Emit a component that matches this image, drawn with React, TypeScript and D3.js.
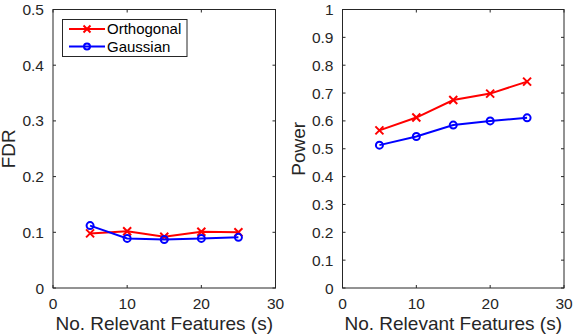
import React, { useRef, useEffect } from "react";
import * as d3 from "d3";

const relevantFeatures = [5, 10, 15, 20, 25];
const fdrOrthogonal = [0.098, 0.102, 0.092, 0.101, 0.1];
const fdrGaussian = [0.112, 0.089, 0.087, 0.089, 0.091];
const powerOrthogonal = [0.566, 0.612, 0.675, 0.698, 0.741];
const powerGaussian = [0.513, 0.544, 0.585, 0.6, 0.611];

const xTicks = [0, 10, 20, 30];
const fdrTicks = [0, 0.1, 0.2, 0.3, 0.4, 0.5];
const powerTicks = [0, 0.1, 0.2, 0.3, 0.4, 0.5, 0.6, 0.7, 0.8, 0.9, 1];
const seriesNames = ["Orthogonal", "Gaussian"];

const RED = "#ff0000";
const BLUE = "#0000ff";
const AXIS = "#262626";
const FONT = "'Liberation Sans', Arial, Helvetica, sans-serif";

type Panel = {
  left: number;
  right: number;
  yMax: number;
  yTicks: number[];
  yLabel: string;
  red: number[];
  blue: number[];
  legend: boolean;
};

const App = () => {
  const ref = useRef<SVGSVGElement>(null);

  useEffect(() => {
    const svg = d3.select(ref.current);
    svg.selectAll("*").remove();

    const top = 9.5;
    const bottom = 288;

    const panels: Panel[] = [
      {
        left: 53,
        right: 275.5,
        yMax: 0.5,
        yTicks: fdrTicks,
        yLabel: "FDR",
        red: fdrOrthogonal,
        blue: fdrGaussian,
        legend: true,
      },
      {
        left: 342.5,
        right: 564,
        yMax: 1,
        yTicks: powerTicks,
        yLabel: "Power",
        red: powerOrthogonal,
        blue: powerGaussian,
        legend: false,
      },
    ];

    panels.forEach((p) => {
      const x = d3.scaleLinear().domain([0, 30]).range([p.left, p.right]);
      const y = d3.scaleLinear().domain([0, p.yMax]).range([bottom, top]);
      const g = svg.append("g");
      const tl = 3;

      // box
      g.append("rect")
        .attr("x", p.left)
        .attr("y", top)
        .attr("width", p.right - p.left)
        .attr("height", bottom - top)
        .attr("fill", "white")
        .attr("stroke", AXIS)
        .attr("stroke-width", 1);

      // x ticks (bottom and top, inward)
      xTicks.forEach((t) => {
        g.append("line")
          .attr("x1", x(t)).attr("x2", x(t))
          .attr("y1", bottom).attr("y2", bottom - tl)
          .attr("stroke", AXIS);
        g.append("line")
          .attr("x1", x(t)).attr("x2", x(t))
          .attr("y1", top).attr("y2", top + tl)
          .attr("stroke", AXIS);
        g.append("text")
          .attr("x", x(t))
          .attr("y", 308.5)
          .attr("text-anchor", "middle")
          .attr("font-family", FONT)
          .attr("font-size", 15.5)
          .attr("fill", AXIS)
          .text(d3.format("d")(t));
      });

      // y ticks
      p.yTicks.forEach((t) => {
        g.append("line")
          .attr("x1", p.left).attr("x2", p.left + tl)
          .attr("y1", y(t)).attr("y2", y(t))
          .attr("stroke", AXIS);
        g.append("line")
          .attr("x1", p.right).attr("x2", p.right - tl)
          .attr("y1", y(t)).attr("y2", y(t))
          .attr("stroke", AXIS);
        g.append("text")
          .attr("x", p.left - 9)
          .attr("y", y(t))
          .attr("dy", "0.36em")
          .attr("text-anchor", "end")
          .attr("font-family", FONT)
          .attr("font-size", 15.5)
          .attr("fill", AXIS)
          .text(String(+t.toFixed(1)));
      });

      // axis labels
      g.append("text")
        .attr("x", (p.left + p.right) / 2)
        .attr("y", 329.5)
        .attr("text-anchor", "middle")
        .attr("font-family", FONT)
        .attr("font-size", 19)
        .attr("fill", AXIS)
        .text("No. Relevant Features (s)");
      g.append("text")
        .attr("transform", `translate(${p.left - 38},${(top + bottom) / 2}) rotate(-90)`)
        .attr("text-anchor", "middle")
        .attr("font-family", FONT)
        .attr("font-size", 19)
        .attr("fill", AXIS)
        .text(p.yLabel);

      const line = d3
        .line<number>()
        .x((_, i) => x(relevantFeatures[i]))
        .y((d) => y(d));

      const drawSeries = (vals: number[], color: string, marker: "x" | "o") => {
        g.append("path")
          .attr("d", line(vals))
          .attr("fill", "none")
          .attr("stroke", color)
          .attr("stroke-width", 2);
        vals.forEach((v, i) => {
          const cx = x(relevantFeatures[i]);
          const cy = y(v);
          if (marker === "x") {
            const s = 4;
            g.append("path")
              .attr("d", `M${cx - s},${cy - s}L${cx + s},${cy + s}M${cx - s},${cy + s}L${cx + s},${cy - s}`)
              .attr("stroke", color)
              .attr("stroke-width", 2);
          } else {
            g.append("circle")
              .attr("cx", cx)
              .attr("cy", cy)
              .attr("r", 3.5)
              .attr("fill", "none")
              .attr("stroke", color)
              .attr("stroke-width", 2);
          }
        });
      };

      drawSeries(p.red, RED, "x");
      drawSeries(p.blue, BLUE, "o");

      if (p.legend) {
        const lg = g.append("g");
        lg.append("rect")
          .attr("x", 62.5)
          .attr("y", 19.5)
          .attr("width", 124.5)
          .attr("height", 37)
          .attr("fill", "white")
          .attr("stroke", AXIS);
        seriesNames.forEach((name, i) => {
          const cy = 29 + i * 17.5;
          const color = i === 0 ? RED : BLUE;
          lg.append("line")
            .attr("x1", 69).attr("x2", 105)
            .attr("y1", cy).attr("y2", cy)
            .attr("stroke", color)
            .attr("stroke-width", 2);
          if (i === 0) {
            const s = 3.5;
            lg.append("path")
              .attr("d", `M${87 - s},${cy - s}L${87 + s},${cy + s}M${87 - s},${cy + s}L${87 + s},${cy - s}`)
              .attr("stroke", color)
              .attr("stroke-width", 2);
          } else {
            lg.append("circle")
              .attr("cx", 87).attr("cy", cy).attr("r", 3)
              .attr("fill", "none")
              .attr("stroke", color)
              .attr("stroke-width", 2);
          }
          lg.append("text")
            .attr("x", 107)
            .attr("y", cy)
            .attr("dy", "0.36em")
            .attr("font-family", FONT)
            .attr("font-size", 15)
            .attr("fill", "#000")
            .text(name);
        });
      }
    });
  }, []);

  return (
    <svg
      ref={ref}
      width={574}
      height={334}
      style={{ display: "block", position: "absolute", left: 0, top: 0, background: "white" }}
    />
  );
};

export default App;
